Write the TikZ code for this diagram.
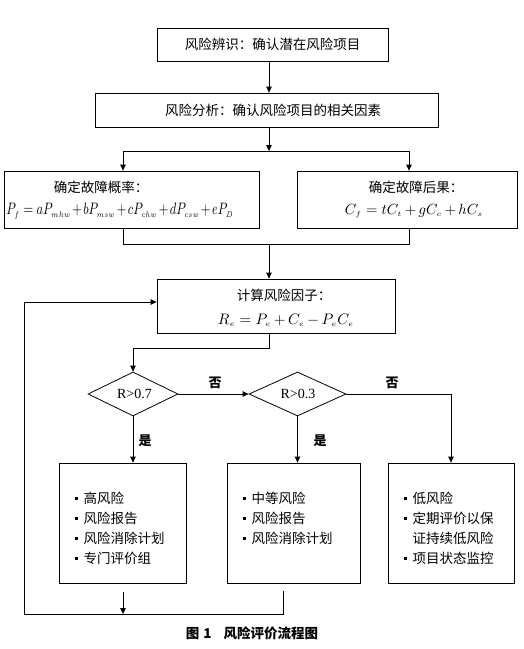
\documentclass[tikz,border=0pt]{standalone}
\usepackage{fontspec}
\usepackage{graphicx}
\newfontfamily\cjk{Noto Sans CJK SC}
\newfontfamily\tnr{Liberation Serif}
\usetikzlibrary{arrows.meta,shapes.geometric}
\newcommand{\bul}{\rule[3.5pt]{3pt}{3pt}\hspace{6pt}}
\newcommand{\tsub}[1]{_{\scriptscriptstyle #1}}
\begin{document}
\begin{tikzpicture}[x=1pt,y=-1pt,
  box/.style={draw, line width=0.8pt, inner sep=0pt},
  ln/.style={line width=0.8pt},
  arr/.style={line width=0.8pt,-{Triangle[length=6pt,width=5.5pt]}},
  txt/.style={font=\cjk\fontsize{13.5}{16}\selectfont, inner sep=0pt},
  lst/.style={font=\cjk\fontsize{13.5}{20}\selectfont, inner sep=0pt, align=left, anchor=north west},
  lab/.style={font=\cjk\bfseries\fontsize{13}{15}\selectfont, inner sep=0pt},
  dia/.style={draw, diamond, aspect=2, line width=0.8pt, inner sep=0pt, minimum height=44},
  cond/.style={font=\tnr\fontsize{14}{16}\selectfont, inner sep=0pt},
  fml/.style={inner sep=0pt}
]
\useasboundingbox (0,0) rectangle (523,649);

% boxes
\node[box, minimum width=231, minimum height=33] (b1) at (272.5,44.5) {};
\node[txt] (t1) at (272.5,44.5) {风险辨识：确认潜在风险项目};
\node[box, minimum width=343, minimum height=34] (b2) at (266.5,110) {};
\node[txt] (t2) at (273,110) {风险分析：确认风险项目的相关因素};

\node[box, minimum width=255, minimum height=57] (b3) at (131.5,199.5) {};
\node[txt] (t3) at (101,187) {确定故障概率：};
\node[fml] (f3) at (120,211) {\resizebox{227pt}{11.5pt}{$\medmuskip=2mu P\tsub{f} = aP\tsub{mhw} + bP\tsub{msw} + cP\tsub{chw} + dP\tsub{csw} + eP\tsub{D}$}};

\node[box, minimum width=220, minimum height=57] (b4) at (407,199.5) {};
\node[txt] (t4) at (416,187) {确定故障后果：};
\node[fml] (f4) at (414,211) {\resizebox{138pt}{!}{$\medmuskip=3mu C\tsub{f} = tC\tsub{t} + gC\tsub{c} + hC\tsub{s}$}};

\node[box, minimum width=238, minimum height=54] (b5) at (276,306) {};
\node[txt] (t5) at (284,295) {计算风险因子：};
\node[fml] (f5) at (286,320) {\resizebox{136pt}{!}{$\medmuskip=3mu R\tsub{e} = P\tsub{e} + C\tsub{e} - P\tsub{e}C\tsub{e}$}};

\node[dia, minimum width=90] (d1) at (133,394) {};
\node[cond] (c1) at (134.5,394) {R>0.7};
\node[dia, minimum width=97] (d2) at (297.5,394) {};
\node[cond] (c2) at (298,394) {R>0.3};

\node[box, minimum width=127, minimum height=120] (b6) at (122.5,523) {};
\node[box, minimum width=133, minimum height=120] (b7) at (293.5,523) {};
\node[box, minimum width=126, minimum height=120] (b8) at (451,523) {};

\node[lst] (l6) at (74.5,492) {\bul 高风险\\ \bul 风险报告\\ \bul 风险消除计划\\ \bul 专门评价组};
\node[lst] (l7) at (242.5,492) {\bul 中等风险\\ \bul 风险报告\\ \bul 风险消除计划};
\node[lst] (l8) at (403.5,492) {\bul 低风险\\ \bul 定期评价以保\\ \hphantom{\bul}证持续低风险\\ \bul 项目状态监控};

% labels
\node[lab] (n1) at (215,383) {否};
\node[lab] (n2) at (392,383) {否};
\node[lab] (y1) at (145,441) {是};
\node[lab] (y2) at (320,441) {是};

\node[font=\cjk\bfseries\fontsize{13.5}{16}\selectfont, inner sep=0pt] (cap) at (252,633) {图\hspace{4pt}1\hspace{12pt}风险评价流程图};

% connectors
\coordinate (m) at (269,0);
\draw[arr] (b1.south -| m) -- (b2.north -| m);
\coordinate (br) at (269,151);
\coordinate (brl) at (123,151);
\coordinate (brr) at (409,151);
\draw[arr] (b2.south -| m) -- (br);
\draw[ln] (brl) -- (brr);
\draw[arr] (brl) -- (brl |- b3.north);
\draw[arr] (brr) -- (brr |- b4.north);

\coordinate (jl) at (123,244);
\coordinate (jr) at (409,244);
\coordinate (jm) at (269,244);
\draw[ln] (jl |- b3.south) -- (jl) -- (jr) -- (jr |- b4.south);
\draw[arr] (jm) -- (jm |- b5.north);

\coordinate (k) at (269,348);
\draw[arr] (k |- b5.south) -- (k) -- (k -| d1.north) -- (d1.north);
\draw[arr] (d1.east) -- (d2.west);
\coordinate (r) at (451,394);
\draw[arr] (d2.east) -- (r) -- (r |- b8.north);
\draw[arr] (d1.south) -- (d1.south |- b6.north);
\draw[arr] (d2.south) -- (d2.south |- b7.north);

\coordinate (p0) at (123,592);
\coordinate (p) at (123,614);
\draw[arr] (p0) -- (p);
\coordinate (q0) at (283,591);
\coordinate (q) at (283,614);
\coordinate (lb) at (24,614);
\coordinate (lt) at (24,302);
\draw[arr] (q0) -- (q) -- (lb) -- (lt) -- (b5.west |- lt);
\end{tikzpicture}
\end{document}
